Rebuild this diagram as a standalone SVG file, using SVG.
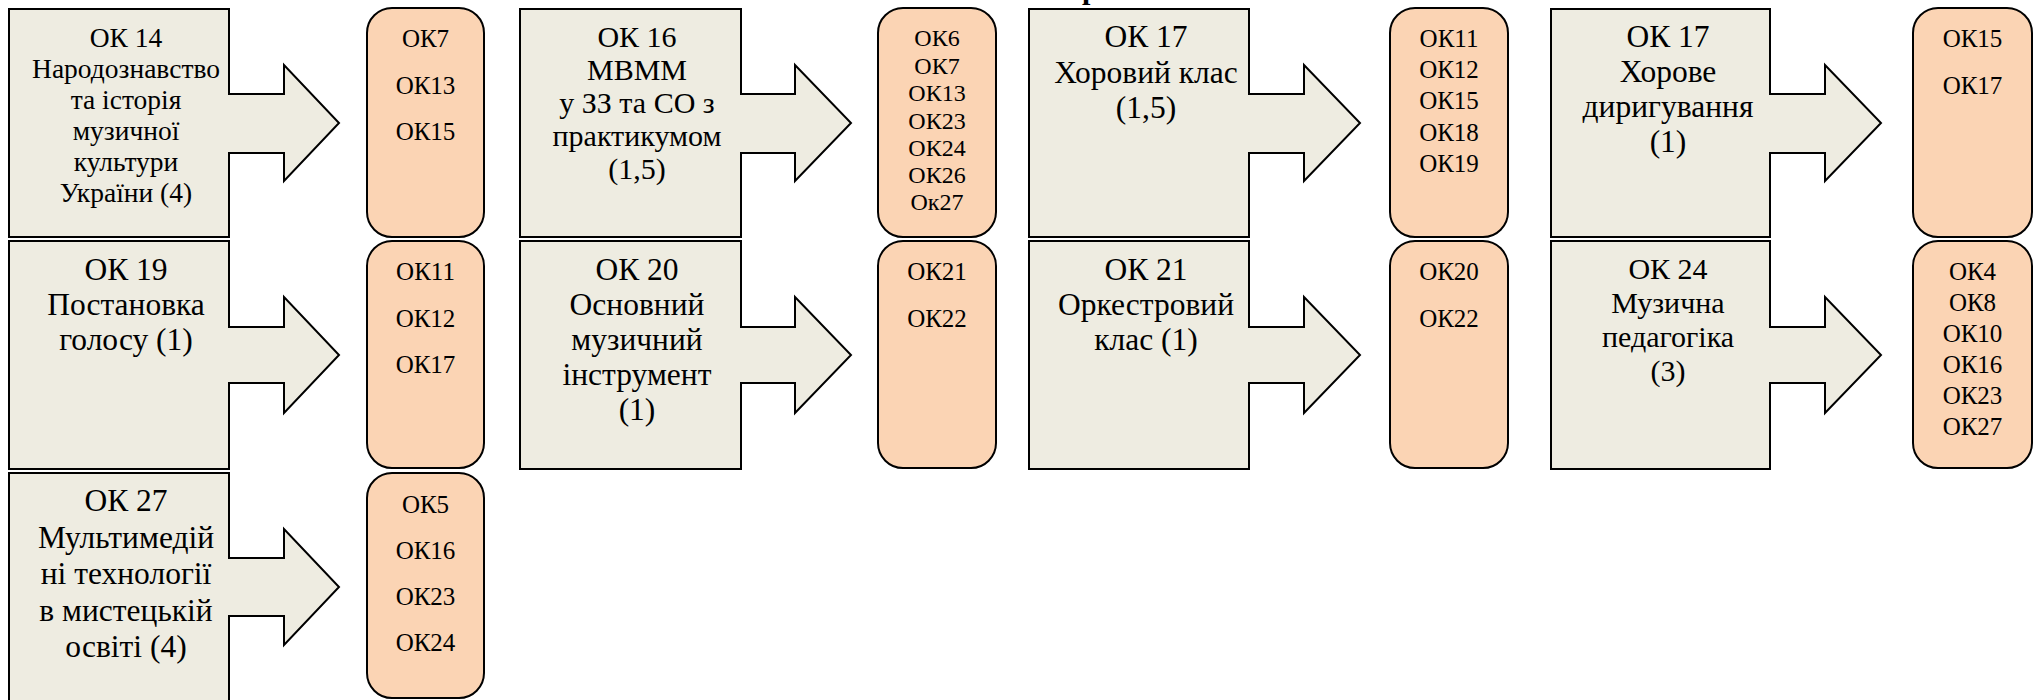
<svg xmlns="http://www.w3.org/2000/svg" width="2042" height="700" viewBox="0 0 2042 700">
<style>
.box{fill:#EEECE1;stroke:#000;stroke-width:2;stroke-linejoin:miter}
.lst{fill:#FBD4B4;stroke:#000;stroke-width:2}
.b27{font-size:27.5px}
.b30{font-size:30px}
.b31{font-size:31.5px}
.l25{font-size:25px}
.l24{font-size:24px}
.ttl{font-size:30px;font-weight:bold}
</style>
<rect width="2042" height="700" fill="#fff"/>
<g id="connectors"/>
<g font-family="'Liberation Serif', 'Times New Roman', Tinos, serif" text-anchor="middle" fill="#000">
<g id="title-fragment">
<text class="ttl" x="1082" y="-1" text-anchor="start">р</text>
</g>
<!-- Row 1 -->
<g id="ok14">
<polygon class="box" points="9,9 229,9 229,94 284,94 284,65 339,123 284,181 284,153 229,153 229,237 9,237"/>
<text class="b27"><tspan x="126" y="47">ОК 14</tspan><tspan x="126" y="78">Народознавство</tspan><tspan x="126" y="109">та історія</tspan><tspan x="126" y="140">музичної</tspan><tspan x="126" y="171">культури</tspan><tspan x="126" y="202">України (4)</tspan></text>
</g>
<g id="ok14-res">
<rect class="lst" x="367" y="8" width="117" height="229" rx="25"/>
<text class="l25"><tspan x="425.5" y="47">ОК7</tspan><tspan x="425.5" y="93.5">ОК13</tspan><tspan x="425.5" y="140">ОК15</tspan></text>
</g>
<g id="ok16">
<polygon class="box" points="520,9 741,9 741,94 795,94 795,65 851,123 795,181 795,153 741,153 741,237 520,237"/>
<text class="b30"><tspan x="637" y="47">ОК 16</tspan><tspan x="637" y="80">МВММ</tspan><tspan x="637" y="113">у ЗЗ та СО з</tspan><tspan x="637" y="146">практикумом</tspan><tspan x="637" y="179">(1,5)</tspan></text>
</g>
<g id="ok16-res">
<rect class="lst" x="878" y="8" width="118" height="229" rx="25"/>
<text class="l24"><tspan x="937" y="46">ОК6</tspan><tspan x="937" y="73.5">ОК7</tspan><tspan x="937" y="101">ОК13</tspan><tspan x="937" y="128.5">ОК23</tspan><tspan x="937" y="156">ОК24</tspan><tspan x="937" y="183">ОК26</tspan><tspan x="937" y="210">Ок27</tspan></text>
</g>
<g id="ok17a">
<polygon class="box" points="1029,9 1249,9 1249,94 1304,94 1304,65 1360,123 1304,181 1304,153 1249,153 1249,237 1029,237"/>
<text class="b31"><tspan x="1146" y="47">ОК 17</tspan><tspan x="1146" y="83">Хоровий клас</tspan><tspan x="1146" y="118">(1,5)</tspan></text>
</g>
<g id="ok17a-res">
<rect class="lst" x="1390" y="8" width="118" height="229" rx="25"/>
<text class="l25"><tspan x="1449" y="47">ОК11</tspan><tspan x="1449" y="78">ОК12</tspan><tspan x="1449" y="109">ОК15</tspan><tspan x="1449" y="140.5">ОК18</tspan><tspan x="1449" y="172">ОК19</tspan></text>
</g>
<g id="ok17b">
<polygon class="box" points="1551,9 1770,9 1770,94 1825,94 1825,65 1881,123 1825,181 1825,153 1770,153 1770,237 1551,237"/>
<text class="b31"><tspan x="1668" y="47">ОК 17</tspan><tspan x="1668" y="82">Хорове</tspan><tspan x="1668" y="117">диригування</tspan><tspan x="1668" y="152">(1)</tspan></text>
</g>
<g id="ok17b-res">
<rect class="lst" x="1913" y="8" width="119" height="229" rx="25"/>
<text class="l25"><tspan x="1972.5" y="47">ОК15</tspan><tspan x="1972.5" y="94">ОК17</tspan></text>
</g>
<!-- Row 2 -->
<g id="ok19">
<polygon class="box" points="9,241 229,241 229,327 284,327 284,297 339,355 284,413 284,383 229,383 229,469 9,469"/>
<text class="b31"><tspan x="126" y="280">ОК 19</tspan><tspan x="126" y="315">Постановка</tspan><tspan x="126" y="350">голосу (1)</tspan></text>
</g>
<g id="ok19-res">
<rect class="lst" x="367" y="241" width="117" height="227" rx="25"/>
<text class="l25"><tspan x="425.5" y="280">ОК11</tspan><tspan x="425.5" y="326.5">ОК12</tspan><tspan x="425.5" y="373">ОК17</tspan></text>
</g>
<g id="ok20">
<polygon class="box" points="520,241 741,241 741,327 795,327 795,297 851,355 795,413 795,383 741,383 741,469 520,469"/>
<text class="b31"><tspan x="637" y="280">ОК 20</tspan><tspan x="637" y="315">Основний</tspan><tspan x="637" y="350">музичний</tspan><tspan x="637" y="385">інструмент</tspan><tspan x="637" y="420">(1)</tspan></text>
</g>
<g id="ok20-res">
<rect class="lst" x="878" y="241" width="118" height="227" rx="25"/>
<text class="l25"><tspan x="937" y="280">ОК21</tspan><tspan x="937" y="326.5">ОК22</tspan></text>
</g>
<g id="ok21">
<polygon class="box" points="1029,241 1249,241 1249,327 1304,327 1304,297 1360,355 1304,413 1304,383 1249,383 1249,469 1029,469"/>
<text class="b31"><tspan x="1146" y="280">ОК 21</tspan><tspan x="1146" y="315">Оркестровий</tspan><tspan x="1146" y="350">клас (1)</tspan></text>
</g>
<g id="ok21-res">
<rect class="lst" x="1390" y="241" width="118" height="227" rx="25"/>
<text class="l25"><tspan x="1449" y="280">ОК20</tspan><tspan x="1449" y="326.5">ОК22</tspan></text>
</g>
<g id="ok24">
<polygon class="box" points="1551,241 1770,241 1770,327 1825,327 1825,297 1881,355 1825,413 1825,383 1770,383 1770,469 1551,469"/>
<text class="b30"><tspan x="1668" y="279">ОК 24</tspan><tspan x="1668" y="313">Музична</tspan><tspan x="1668" y="347">педагогіка</tspan><tspan x="1668" y="381">(3)</tspan></text>
</g>
<g id="ok24-res">
<rect class="lst" x="1913" y="241" width="119" height="227" rx="25"/>
<text class="l25"><tspan x="1972.5" y="280">ОК4</tspan><tspan x="1972.5" y="311">ОК8</tspan><tspan x="1972.5" y="342">ОК10</tspan><tspan x="1972.5" y="373">ОК16</tspan><tspan x="1972.5" y="404">ОК23</tspan><tspan x="1972.5" y="435">ОК27</tspan></text>
</g>
<!-- Row 3 -->
<g id="ok27">
<polygon class="box" points="9,473 229,473 229,558 284,558 284,529 339,587 284,645 284,616 229,616 229,702 9,702"/>
<text class="b31"><tspan x="126" y="511">ОК 27</tspan><tspan x="126" y="547.5">Мультимедій</tspan><tspan x="126" y="584">ні технології</tspan><tspan x="126" y="620.5">в мистецькій</tspan><tspan x="126" y="657">освіті (4)</tspan></text>
</g>
<g id="ok27-res">
<rect class="lst" x="367" y="473" width="117" height="225" rx="25"/>
<text class="l25"><tspan x="425.5" y="513">ОК5</tspan><tspan x="425.5" y="559">ОК16</tspan><tspan x="425.5" y="605">ОК23</tspan><tspan x="425.5" y="651">ОК24</tspan></text>
</g>
</g>
</svg>
